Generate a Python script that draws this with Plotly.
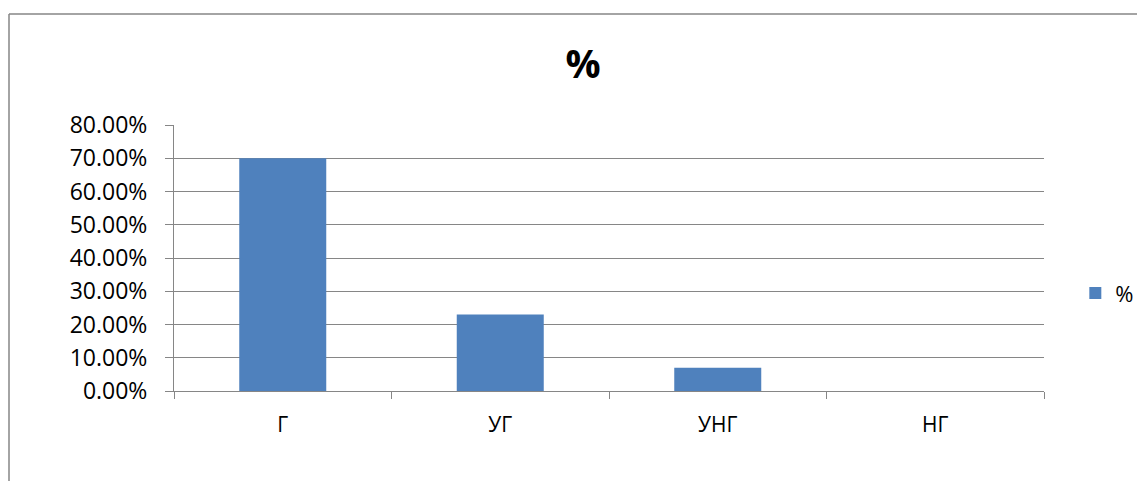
import plotly.graph_objects as go

categories = ["Г", "УГ", "УНГ", "НГ"]
values = [0.70, 0.23, 0.07, 0.0]
series_name = "%"
chart_title = "%"

GRID = "#868686"
BAR = "#4F81BD"
FONT = "Open Sans"

# page body has an 8px margin, so the figure is laid out 8px smaller
W, H = 1137, 473
L, T, R, B = 166, 117, 101, 90
PW = W - L - R
PH = H - T - B

fig = go.Figure()
fig.add_trace(go.Bar(
    x=categories, y=values, name=series_name,
    marker=dict(color=BAR, line=dict(width=0)),
    showlegend=True,
))

fig.update_layout(
    width=W, height=H,
    margin=dict(l=L, r=R, t=T, b=B, autoexpand=False),
    paper_bgcolor="white", plot_bgcolor="white",
    bargap=0.6,
    font=dict(family=FONT, size=21, color="#000000"),
    title=dict(text="<b>" + chart_title + "</b>", x=575 / W, xref="container",
               y=1 - 56 / H, yref="container", xanchor="center", yanchor="middle",
               font=dict(family=FONT, size=39, color="#000000")),
    showlegend=True,
    legend=dict(x=1.036, xanchor="left", y=0.368, yanchor="middle",
                font=dict(family=FONT, size=22), itemwidth=30,
                bgcolor="rgba(0,0,0,0)"),
    xaxis=dict(type="category", showline=True, linecolor=GRID, linewidth=1,
               ticks="outside", tickson="boundaries", ticklen=7, tickcolor=GRID,
               showgrid=False, zeroline=False, ticklabelstandoff=15,
               tickfont=dict(family=FONT, size=21)),
    yaxis=dict(range=[0, 0.8], dtick=0.1, tickformat=".2%", showline=True,
               linecolor=GRID, linewidth=1, ticks="outside", ticklen=8,
               tickcolor=GRID, showgrid=True, gridcolor=GRID, gridwidth=1,
               zeroline=False, ticklabelstandoff=13,
               tickfont=dict(family=FONT, size=23)),
    shapes=[
        dict(type="line", xref="paper", yref="paper",
             x0=(1 - L) / PW, x1=(W + 10 - L) / PW,
             y0=(H - B - 6) / PH, y1=(H - B - 6) / PH,
             line=dict(color=GRID, width=1.5)),
        dict(type="line", xref="paper", yref="paper",
             x0=(1 - L) / PW, x1=(1 - L) / PW,
             y0=(H - B - 6) / PH, y1=-(B + 20) / PH,
             line=dict(color=GRID, width=1.5)),
    ],
)

fig.write_html("out.html")
